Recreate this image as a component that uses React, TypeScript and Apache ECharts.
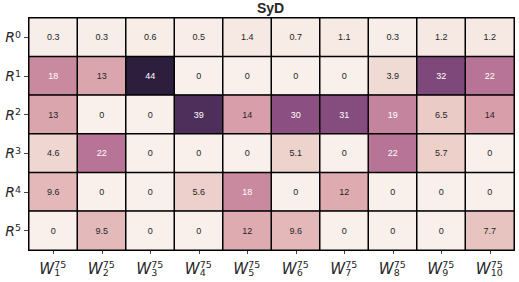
import React, { useEffect, useRef } from 'react';
import * as echarts from 'echarts';

const chartTitle = 'SyD';
const colIndices = ['1', '2', '3', '4', '5', '6', '7', '8', '9', '10'];
const rowIndices = ['0', '1', '2', '3', '4', '5'];
const colSuperscript = '75';

const rowR0 = [0.3, 0.3, 0.6, 0.5, 1.4, 0.7, 1.1, 0.3, 1.2, 1.2];
const rowR1 = [18, 13, 44, 0, 0, 0, 0, 3.9, 32, 22];
const rowR2 = [13, 0, 0, 39, 14, 30, 31, 19, 6.5, 14];
const rowR3 = [4.6, 22, 0, 0, 0, 5.1, 0, 22, 5.7, 0];
const rowR4 = [9.6, 0, 0, 5.6, 18, 0, 12, 0, 0, 0];
const rowR5 = [0, 9.5, 0, 0, 12, 9.6, 0, 0, 0, 7.7];
const rows = [rowR0, rowR1, rowR2, rowR3, rowR4, rowR5];

const vMin = 0;
const vMax = 44;

// seaborn cubehelix palette (start=0, rot=0.4, hue=0.8), light 0.95 -> dark 0.15
function cubehelix(x: number): string {
  const h = 0.8, s = 0, r = 0.4;
  const a = (h * x * (1 - x)) / 2;
  const phi = 2 * Math.PI * (s / 3 + r * x);
  const c = Math.cos(phi), sn = Math.sin(phi);
  const R = x + a * (-0.14861 * c + 1.78277 * sn);
  const G = x + a * (-0.29227 * c - 0.90649 * sn);
  const B = x + a * (1.97294 * c);
  const to = (v: number) => {
    const n = Math.max(0, Math.min(255, Math.round(v * 255)));
    return n.toString(16).padStart(2, '0');
  };
  return '#' + to(R) + to(G) + to(B);
}
const paletteStops: string[] = [];
for (let i = 0; i <= 24; i++) {
  const t = i / 24;
  paletteStops.push(cubehelix(0.95 - 0.8 * t));
}

const mathFont = 'DejaVu Sans';
const ink = '#262626';
const wAdvance = 14.8; // width of italic W at 15px
const scriptWidth = 13;

function labelAxis(margin: number, formatter: (v: string) => string, rich: any, main: boolean) {
  return {
    type: 'category',
    data: colIndices,
    position: 'bottom',
    axisLine: main ? { show: true, lineStyle: { color: '#555', width: 1 } } : { show: false },
    axisTick: main
      ? { show: true, alignWithLabel: true, length: 4, lineStyle: { color: '#444' } }
      : { show: false },
    splitLine: { show: false },
    axisLabel: { interval: 0, margin, formatter, rich },
  };
}

export default function App() {
  const ref = useRef<HTMLDivElement>(null);
  useEffect(() => {
    if (!ref.current) return;
    const chart = echarts.init(ref.current, undefined, { renderer: 'svg' });
    const data: any[] = [];
    rows.forEach((row, yi) => {
      row.forEach((v, xi) => {
        data.push({
          value: [xi, yi, v],
          label: { color: v >= 15 ? '#ffffff' : ink },
        });
      });
    });
    const option: any = {
      animation: false,
      backgroundColor: '#ffffff',
      title: {
        text: chartTitle,
        left: 257,
        top: 1,
        padding: 0,
        textStyle: {
          fontFamily: 'Liberation Sans',
          fontWeight: 'bold',
          fontSize: 14,
          color: ink,
        },
      },
      grid: {
        left: 29,
        right: 5,
        top: 18,
        bottom: 32,
        show: true,
        borderColor: '#555',
        borderWidth: 1,
      },
      visualMap: {
        show: false,
        min: vMin,
        max: vMax,
        dimension: 2,
        inRange: { color: paletteStops },
      },
      xAxis: [
        labelAxis(
          11,
          () => `{w|W}`,
          {
            w: {
              fontFamily: mathFont, fontStyle: 'italic', fontSize: 15, lineHeight: 16, color: ink,
              width: wAdvance, align: 'left', padding: [0, scriptWidth, 0, 0],
            },
          },
          true
        ),
        labelAxis(
          11,
          () => `{sup|${colSuperscript}}`,
          {
            sup: {
              fontFamily: mathFont, fontSize: 9.5, lineHeight: 7, width: scriptWidth, align: 'left',
              color: ink, padding: [0, 0, 0, wAdvance],
            },
          },
          false
        ),
        labelAxis(
          19,
          (v: string) => `{sub|${v}}`,
          {
            sub: {
              fontFamily: mathFont, fontSize: 9.5, lineHeight: 7, width: scriptWidth, align: 'left',
              color: ink, padding: [0, 0, 0, wAdvance],
            },
          },
          false
        ),
      ],
      yAxis: {
        type: 'category',
        data: rowIndices,
        inverse: true,
        axisLine: { show: true, lineStyle: { color: '#555', width: 1 } },
        axisTick: { show: true, alignWithLabel: true, length: 5, lineStyle: { color: '#444' } },
        splitLine: { show: false },
        axisLabel: {
          margin: 8,
          formatter: (v: string) => `{r|R}{s|${v}}`,
          rich: {
            r: { fontFamily: mathFont, fontStyle: 'italic', fontSize: 14, lineHeight: 16, color: ink },
            s: { fontFamily: mathFont, fontSize: 9.5, lineHeight: 9, verticalAlign: 'top', color: ink },
          },
        },
      },
      series: [
        {
          type: 'heatmap',
          xAxisIndex: 0,
          yAxisIndex: 0,
          data,
          itemStyle: { borderColor: '#000000', borderWidth: 1.5 },
          label: {
            show: true,
            fontFamily: 'Liberation Sans',
            fontSize: 9,
            formatter: (p: any) => String(p.value[2]),
          },
          emphasis: { disabled: true },
        },
      ],
    };
    chart.setOption(option);
    return () => chart.dispose();
  }, []);
  return (
    <div
      ref={ref}
      style={{ position: 'fixed', left: 0, top: 0, width: 519, height: 282 }}
    />
  );
}
